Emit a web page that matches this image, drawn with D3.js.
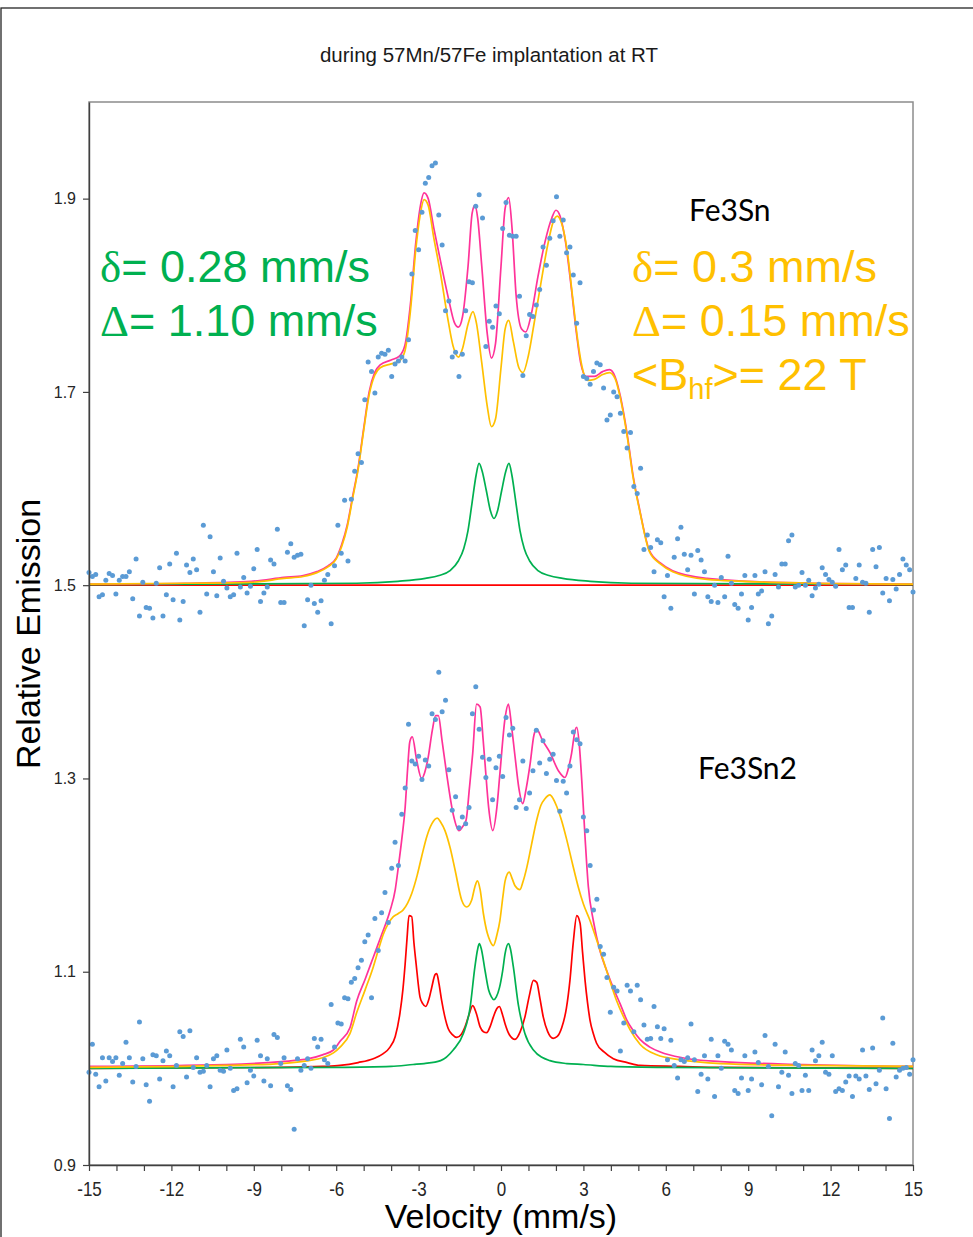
<!DOCTYPE html>
<html lang="en">
<head>
<meta charset="utf-8">
<script src="https://cdn.jsdelivr.net/npm/d3@7"></script>
<style>
  body { margin: 0; background: #fff; }
  svg { display: block; font-family: "Liberation Sans", Arial, sans-serif; }
</style>
</head>
<body>
<script>
// ---- data ----
// axis ticks
var yTicks = [0.9, 1.1, 1.3, 1.5, 1.7, 1.9];
var xTicks = d3.range(-15, 16, 1);

// measured points, one value per channel, channels evenly spread over -15..15 mm/s
var emTop = [
  1.513,1.509,1.511,1.488,1.490,1.505,1.512,1.510,1.491,1.505,1.509,1.509,1.514,1.486,1.527,1.468,
  1.503,1.477,1.476,1.466,1.502,1.518,1.468,1.490,1.522,1.485,1.533,1.464,1.483,1.521,1.513,1.527,
  1.516,1.472,1.562,1.491,1.550,1.514,1.489,1.528,1.504,1.497,1.488,1.490,1.533,1.498,1.508,1.492,
  1.499,1.517,1.537,1.483,1.492,1.498,1.526,1.522,1.558,1.482,1.482,1.534,1.543,1.529,1.531,1.532,
  1.458,1.485,1.500,1.481,1.472,1.484,1.505,1.511,1.460,1.520,1.562,1.533,1.588,1.525,1.589,1.618,
  1.636,1.627,1.692,1.731,1.721,1.699,1.736,1.740,
  1.739,1.743,1.716,1.729,1.732,1.736,1.732,1.754,1.822,1.867,1.847,1.886,1.916,1.922,1.934,1.937,
  1.883,1.852,1.784,1.794,1.736,1.741,1.716,1.739,1.784,1.814,1.813,1.892,1.904,1.880,1.747,1.773,
  1.767,1.789,1.781,1.869,1.896,1.862,1.861,1.861,1.799,1.717,1.758,1.780,1.778,1.790,1.806,1.850,
  1.831,1.859,1.877,1.902,1.861,1.878,1.844,1.850,1.821,1.771,1.813,1.716,1.714,1.708,1.721,1.730,
  1.728,1.704,1.671,1.676,1.700,1.695,1.678,1.659,1.642,1.658,1.602,1.595,1.621,1.537,1.552,1.539,
  1.514,1.547,1.544,1.488,1.510,1.476,
  1.529,1.548,1.560,1.532,1.516,1.531,1.491,1.536,1.526,1.514,1.488,1.483,1.500,1.482,1.508,1.488,
  1.530,1.502,1.480,1.476,1.491,1.510,1.464,1.477,1.510,1.491,1.494,1.514,1.460,1.468,1.511,1.498,
  1.522,1.522,1.546,1.552,1.498,1.500,1.513,1.500,1.505,1.489,1.497,1.501,1.518,1.511,1.506,1.503,
  1.499,1.537,1.516,1.521,1.477,1.477,1.507,1.521,1.503,1.502,1.472,1.537,1.519,1.539,1.492,1.507,
  1.484,1.506,1.496,1.511,1.527,1.521,1.516,1.493
];

var emBot = [
  0.996,1.025,0.994,0.981,1.011,0.987,1.011,1.007,1.011,0.993,1.005,1.027,1.011,0.986,1.002,1.048,
  1.010,0.983,0.966,1.014,1.013,0.989,1.008,1.018,1.013,0.981,1.003,1.038,1.033,0.991,1.039,1.001,
  1.011,0.996,0.997,1.003,0.981,1.010,1.013,0.998,0.997,1.019,1.000,0.977,0.979,1.030,1.022,0.985,
  0.998,0.992,1.029,1.013,0.987,1.010,0.982,1.035,1.032,1.005,1.011,0.982,0.978,0.937,1.010,0.998,
  1.003,1.010,1.000,1.031,1.022,1.030,1.009,1.005,1.066,1.022,1.047,1.046,1.073,1.072,1.089,1.093,
  1.104,1.112,1.131,1.138,1.073,1.155,1.122,1.161,1.182,
  1.151,1.207,1.234,1.210,1.263,1.290,1.356,1.318,1.315,1.323,1.299,1.319,1.313,1.367,1.361,1.410,
  1.369,1.381,1.309,1.267,1.281,1.249,1.260,1.253,1.270,1.367,1.395,1.351,1.322,1.301,1.320,1.278,
  1.311,1.323,1.302,1.363,1.345,1.352,1.270,1.278,1.318,1.269,1.285,1.308,1.350,1.316,1.339,1.305,
  1.320,1.325,1.298,1.266,1.297,1.285,1.313,1.348,1.340,1.336,1.260,1.246,1.210,1.164,1.175,1.126,
  1.118,1.094,1.058,1.084,1.080,1.018,1.047,1.086,1.080,1.038,1.086,1.071,1.045,1.030,1.031,1.064,
  1.043,1.031,1.041,1.009,1.029,
  1.003,0.990,1.009,1.007,1.011,1.046,1.009,0.976,0.994,1.013,0.989,1.030,0.971,1.013,1.000,1.028,
  1.025,1.019,0.977,0.974,0.990,1.013,0.977,0.989,1.017,1.006,0.983,1.034,1.002,0.951,1.025,0.981,
  0.996,1.017,0.993,0.974,1.005,1.003,0.977,0.993,0.977,1.019,1.008,1.013,1.027,0.996,0.994,1.013,
  0.976,0.979,0.977,0.986,0.992,0.971,0.992,0.989,1.019,0.992,0.978,1.021,0.984,0.998,1.052,0.979,
  0.948,1.026,0.991,0.998,1.000,1.001,0.994,1.009
];

// fitted curves as [velocity, emission]
var fitTop = [[-15,1.501],[-11.5,1.502],[-9.1,1.504],[-7.9,1.508],[-7.2,1.510],[-6.7,1.514],[-6.3,1.520],[-6.0,1.528],
  [-5.8,1.542],[-5.6,1.562],[-5.4,1.592],[-5.2,1.622],[-5.0,1.662],[-4.8,1.700],[-4.6,1.720],[-4.4,1.728],[-4.0,1.733],
  [-3.7,1.737],[-3.5,1.748],[-3.3,1.790],[-3.1,1.855],[-2.95,1.890],[-2.8,1.906],[-2.65,1.900],[-2.45,1.870],[-2.2,1.835],
  [-1.9,1.795],[-1.7,1.772],[-1.55,1.767],[-1.4,1.778],[-1.2,1.830],[-1.05,1.885],[-0.95,1.893],[-0.85,1.880],[-0.7,1.830],
  [-0.5,1.760],[-0.35,1.735],[-0.2,1.750],[0,1.830],[0.15,1.890],[0.28,1.901],[0.4,1.870],[0.55,1.800],[0.75,1.765],
  [0.9,1.762],[1.1,1.780],[1.35,1.820],[1.6,1.855],[1.85,1.880],[2.0,1.888],[2.15,1.882],[2.35,1.855],[2.55,1.810],
  [2.75,1.760],[2.9,1.730],[3.1,1.716],[3.4,1.716],[3.7,1.721],[3.95,1.723],[4.15,1.716],[4.35,1.695],[4.6,1.655],
  [4.8,1.615],[5.05,1.578],[5.4,1.536],[5.8,1.523],[6.25,1.515],[7.5,1.507],[9.9,1.503],[15,1.501]];

var sextetTop = [[-15,1.501],[-11.5,1.502],[-9.1,1.503],[-7.9,1.507],[-7.2,1.509],[-6.7,1.513],[-6.3,1.519],[-6.0,1.527],
  [-5.8,1.540],[-5.6,1.560],[-5.4,1.590],[-5.2,1.620],[-5.0,1.660],[-4.8,1.697],[-4.6,1.717],[-4.4,1.725],[-4.0,1.729],
  [-3.7,1.732],[-3.5,1.742],[-3.3,1.783],[-3.1,1.848],[-2.95,1.882],[-2.8,1.899],[-2.65,1.893],[-2.45,1.860],[-2.2,1.822],
  [-1.95,1.778],[-1.75,1.748],[-1.55,1.736],[-1.4,1.745],[-1.2,1.770],[-1.02,1.783],[-0.9,1.772],[-0.7,1.730],[-0.5,1.685],
  [-0.35,1.664],[-0.2,1.672],[0,1.725],[0.15,1.765],[0.28,1.774],[0.45,1.752],[0.65,1.725],[0.8,1.720],[1.0,1.738],
  [1.2,1.770],[1.45,1.812],[1.7,1.852],[1.9,1.876],[2.05,1.882],[2.2,1.875],[2.4,1.848],[2.6,1.800],[2.8,1.752],
  [2.95,1.726],[3.15,1.712],[3.4,1.713],[3.7,1.718],[3.95,1.720],[4.15,1.714],[4.35,1.693],[4.6,1.653],[4.8,1.613],
  [5.05,1.577],[5.4,1.535],[5.8,1.522],[6.25,1.514],[7.5,1.506],[9.9,1.503],[15,1.501]];

var doubletTop = [[-15,1.5005],[-5.255,1.502],[-3.755,1.504],[-2.755,1.507],[-2.255,1.510],[-1.855,1.515],[-1.555,1.525],
  [-1.355,1.538],[-1.205,1.556],[-1.055,1.585],[-0.905,1.614],[-0.8,1.626],[-0.685,1.618],[-0.535,1.598],[-0.385,1.577],
  [-0.255,1.569],[-0.125,1.577],[0.025,1.598],[0.175,1.618],[0.29,1.626],[0.395,1.614],[0.545,1.585],[0.695,1.556],
  [0.845,1.538],[1.045,1.525],[1.345,1.515],[1.745,1.510],[2.245,1.507],[3.245,1.504],[4.745,1.502],[15,1.5005]];

var secondTop = [[-15,1.5],[15,1.5]];

var fitBot = [[-15,1.002],[-10,1.004],[-8,1.007],[-7,1.010],[-6.5,1.014],[-6.1,1.019],[-5.86,1.028],[-5.5,1.042],
  [-5.25,1.070],[-4.95,1.092],[-4.65,1.115],[-4.35,1.138],[-4.04,1.163],[-3.85,1.185],[-3.74,1.208],[-3.6,1.240],
  [-3.49,1.270],[-3.4,1.310],[-3.32,1.338],[-3.23,1.343],[-3.07,1.319],[-2.89,1.300],[-2.78,1.306],[-2.65,1.322],
  [-2.5,1.350],[-2.38,1.365],[-2.28,1.365],[-2.15,1.340],[-1.98,1.305],[-1.74,1.263],[-1.53,1.246],[-1.4,1.250],
  [-1.27,1.257],[-1.15,1.290],[-1.03,1.326],[-0.89,1.377],[-0.76,1.374],[-0.65,1.340],[-0.58,1.315],[-0.45,1.270],
  [-0.3,1.246],[-0.15,1.270],[-0.04,1.305],[0.15,1.363],[0.27,1.377],[0.38,1.355],[0.51,1.323],[0.65,1.290],
  [0.79,1.274],[0.92,1.290],[1.06,1.315],[1.2,1.345],[1.3,1.351],[1.5,1.340],[1.78,1.327],[2.09,1.308],[2.33,1.301],
  [2.45,1.310],[2.57,1.326],[2.7,1.350],[2.76,1.353],[2.85,1.335],[2.94,1.298],[3.06,1.239],[3.18,1.188],[3.36,1.153],
  [3.6,1.122],[3.85,1.101],[4.09,1.083],[4.35,1.066],[4.58,1.050],[4.82,1.039],[5.06,1.030],[5.42,1.022],[5.8,1.017],
  [6.6,1.011],[8,1.007],[11,1.004],[15,1.002]];

var sextetBot = [[-15,1.001],[-10,1.003],[-8,1.005],[-7,1.008],[-6.5,1.011],[-6.1,1.016],[-5.86,1.022],[-5.5,1.036],
  [-5.25,1.058],[-4.95,1.081],[-4.65,1.105],[-4.45,1.124],[-4.28,1.139],[-4.1,1.150],[-3.92,1.157],[-3.75,1.160],
  [-3.56,1.164],[-3.4,1.171],[-3.25,1.181],[-3.05,1.200],[-2.89,1.219],[-2.7,1.240],[-2.52,1.253],[-2.32,1.259],
  [-2.2,1.255],[-2.04,1.246],[-1.85,1.228],[-1.67,1.205],[-1.43,1.174],[-1.25,1.167],[-1.07,1.174],[-0.95,1.188],
  [-0.86,1.194],[-0.76,1.185],[-0.64,1.160],[-0.5,1.140],[-0.4,1.132],[-0.28,1.127],[-0.15,1.138],[-0.04,1.153],
  [0.07,1.178],[0.15,1.194],[0.3,1.203],[0.41,1.196],[0.51,1.189],[0.69,1.185],[0.8,1.193],[0.94,1.208],[1.1,1.230],
  [1.3,1.257],[1.45,1.272],[1.6,1.279],[1.78,1.283],[1.9,1.279],[2.03,1.271],[2.2,1.257],[2.39,1.237],[2.6,1.212],
  [2.81,1.188],[3.0,1.170],[3.24,1.153],[3.48,1.133],[3.72,1.112],[3.96,1.091],[4.21,1.070],[4.45,1.054],[4.7,1.040],
  [5.06,1.025],[5.67,1.014],[6.5,1.009],[8,1.005],[11,1.003],[15,1.002]];

var magBot = [[-15,1.000],[-8,1.001],[-6.5,1.002],[-5.86,1.003],[-5.2,1.006],[-4.65,1.010],[-4.3,1.015],[-4.04,1.022],
  [-3.85,1.033],[-3.68,1.057],[-3.57,1.082],[-3.49,1.108],[-3.42,1.135],[-3.35,1.158],[-3.25,1.157],[-3.17,1.130],
  [-3.09,1.108],[-2.95,1.074],[-2.85,1.067],[-2.74,1.064],[-2.62,1.072],[-2.52,1.084],[-2.40,1.097],[-2.34,1.098],
  [-2.26,1.088],[-2.16,1.070],[-2.05,1.054],[-1.92,1.041],[-1.77,1.035],[-1.61,1.032],[-1.45,1.035],[-1.31,1.043],
  [-1.17,1.055],[-1.03,1.065],[-0.9,1.057],[-0.76,1.043],[-0.64,1.038],[-0.52,1.037],[-0.4,1.043],[-0.28,1.053],
  [-0.15,1.062],[-0.06,1.064],[0.05,1.056],[0.15,1.046],[0.3,1.035],[0.51,1.030],[0.7,1.038],[0.87,1.053],[1.03,1.075],
  [1.18,1.091],[1.3,1.089],[1.42,1.072],[1.54,1.053],[1.7,1.038],[1.9,1.031],[2.05,1.033],[2.21,1.042],[2.38,1.062],
  [2.51,1.091],[2.63,1.130],[2.76,1.158],[2.88,1.150],[2.97,1.120],[3.06,1.091],[3.15,1.068],[3.24,1.050],[3.36,1.036],
  [3.48,1.026],[3.75,1.017],[4.09,1.010],[4.6,1.006],[5.06,1.003],[6.5,1.002],[8,1.001],[15,1.000]];

var doubletBot = [[-15,1.000],[-6,1.001],[-4,1.002],[-3.2,1.004],[-2.8,1.005],[-2.2,1.008],[-1.74,1.019],[-1.37,1.036],
  [-1.13,1.062],[-0.95,1.105],[-0.86,1.122],[-0.79,1.129],[-0.72,1.124],[-0.58,1.101],[-0.45,1.081],[-0.35,1.074],
  [-0.26,1.071],[-0.17,1.074],[-0.06,1.083],[0.06,1.101],[0.15,1.119],[0.27,1.129],[0.34,1.124],[0.45,1.105],
  [0.63,1.066],[0.87,1.036],[1.18,1.019],[1.78,1.008],[2.4,1.005],[3.0,1.004],[4,1.002],[6,1.001],[15,1.000]];

// ---- drawing ----
var w = 973, h = 1237;
var plotLeft = 89, plotRight = 913, plotTop = 102, plotBottom = 1165;

var svg = d3.select("body").append("svg")
    .attr("width", w)
    .attr("height", h);

// outer frame of the figure
svg.append("rect")
    .attr("x", 1).attr("y", 8)
    .attr("width", w + 20).attr("height", h + 20)
    .attr("fill", "none")
    .attr("stroke", "#262626")
    .attr("stroke-width", 1.3);

var x = d3.scaleLinear().domain([-15, 15]).range([plotLeft, plotRight]);
var y = d3.scaleLinear().domain([0.9, 2.0]).range([plotBottom, plotTop]);

// plot frame (grey top and right)
svg.append("rect")
    .attr("x", plotLeft).attr("y", plotTop)
    .attr("width", plotRight - plotLeft).attr("height", plotBottom - plotTop)
    .attr("fill", "none")
    .attr("stroke", "#8c8c8c")
    .attr("stroke-width", 1.5);

// fit curves
var line = d3.line()
    .x(function(d) { return x(d[0]); })
    .y(function(d) { return y(d[1]); })
    .curve(d3.curveMonotoneX);

var curves = [
  {data: secondTop, color: "#ff0000"},
  {data: doubletTop, color: "#00b050"},
  {data: fitTop, color: "#ff3399"},
  {data: sextetTop, color: "#ffc000"},
  {data: magBot, color: "#ff0000"},
  {data: doubletBot, color: "#00b050"},
  {data: fitBot, color: "#ff3399"},
  {data: sextetBot, color: "#ffc000"}
];

svg.append("g").selectAll("path")
    .data(curves)
    .enter()
    .append("path")
    .attr("d", function(d) { return line(d.data); })
    .attr("fill", "none")
    .attr("stroke", function(d) { return d.color; })
    .attr("stroke-width", 1.7);

// measured points
function channels(vals) {
  var n = vals.length;
  return vals.map(function(v, i) { return [-15 + 30 * i / (n - 1), v]; });
}

svg.append("g").selectAll("circle")
    .data(channels(emTop).concat(channels(emBot)))
    .enter()
    .append("circle")
    .attr("cx", function(d) { return x(d[0]); })
    .attr("cy", function(d) { return y(d[1]); })
    .attr("r", 2.5)
    .attr("fill", "#5b9bd5");

// axes
var yAxis = svg.append("g")
    .attr("transform", "translate(" + plotLeft + ",0)")
    .call(d3.axisLeft(y).tickValues(yTicks).tickSize(6).tickSizeOuter(0).tickPadding(7)
        .tickFormat(d3.format(".1f")));

var xAxis = svg.append("g")
    .attr("transform", "translate(0," + plotBottom + ")")
    .call(d3.axisBottom(x).tickValues(xTicks).tickSize(6).tickSizeOuter(0).tickPadding(11)
        .tickFormat(function(d) { return d % 3 === 0 ? String(d) : ""; }));

svg.selectAll(".domain").attr("stroke", "#404040").attr("stroke-width", 1.4);
svg.selectAll(".tick line").attr("stroke", "#404040").attr("stroke-width", 1.2);
yAxis.selectAll("text").attr("font-size", 16).attr("fill", "#262626")
    .attr("font-family", "Liberation Sans, Arial, sans-serif");
xAxis.selectAll("text").attr("font-size", 20).attr("fill", "#262626")
    .attr("font-family", "Liberation Sans, Arial, sans-serif")
    .attr("transform", "scale(0.85,1)");

// titles
svg.append("text")
    .attr("x", 489).attr("y", 62)
    .attr("text-anchor", "middle")
    .attr("font-size", 20.5)
    .attr("fill", "#1a1a1a")
    .text("during 57Mn/57Fe implantation at RT");

svg.append("text")
    .attr("x", 501).attr("y", 1228)
    .attr("text-anchor", "middle")
    .attr("font-size", 34)
    .attr("fill", "#000")
    .text("Velocity (mm/s)");

svg.append("text")
    .attr("transform", "translate(40,634) rotate(-90)")
    .attr("text-anchor", "middle")
    .attr("font-size", 34)
    .attr("fill", "#000")
    .text("Relative Emission");

// sample names
svg.append("text")
    .attr("x", 689).attr("y", 221)
    .attr("font-family", "Lato, 'Open Sans', sans-serif")
    .attr("font-size", 30)
    .attr("fill", "#000")
    .text("Fe3Sn");

svg.append("text")
    .attr("x", 698).attr("y", 779)
    .attr("font-family", "Lato, 'Open Sans', sans-serif")
    .attr("font-size", 30)
    .attr("fill", "#000")
    .text("Fe3Sn2");

// hyperfine parameters
function param(px, py, sym, rest, color) {
  var t = svg.append("text")
      .attr("x", px).attr("y", py)
      .attr("font-size", 45)
      .attr("fill", color);
  t.append("tspan").attr("font-family", "'Liberation Serif', 'DejaVu Serif', serif").text(sym);
  t.append("tspan").text(rest);
}

param(100, 282, "\u03b4", "= 0.28 mm/s", "#00b050");
param(100, 336, "\u0394", "= 1.10 mm/s", "#00b050");
param(632, 282, "\u03b4", "= 0.3 mm/s", "#ffc000");
param(632, 336, "\u0394", "= 0.15 mm/s", "#ffc000");

var bhf = svg.append("text")
    .attr("x", 632).attr("y", 390)
    .attr("font-size", 45)
    .attr("fill", "#ffc000");
bhf.append("tspan").text("<B");
bhf.append("tspan").attr("font-size", 29).attr("dy", 9).text("hf");
bhf.append("tspan").attr("dy", -9).text(">= 22 T");
</script>
</body>
</html>
